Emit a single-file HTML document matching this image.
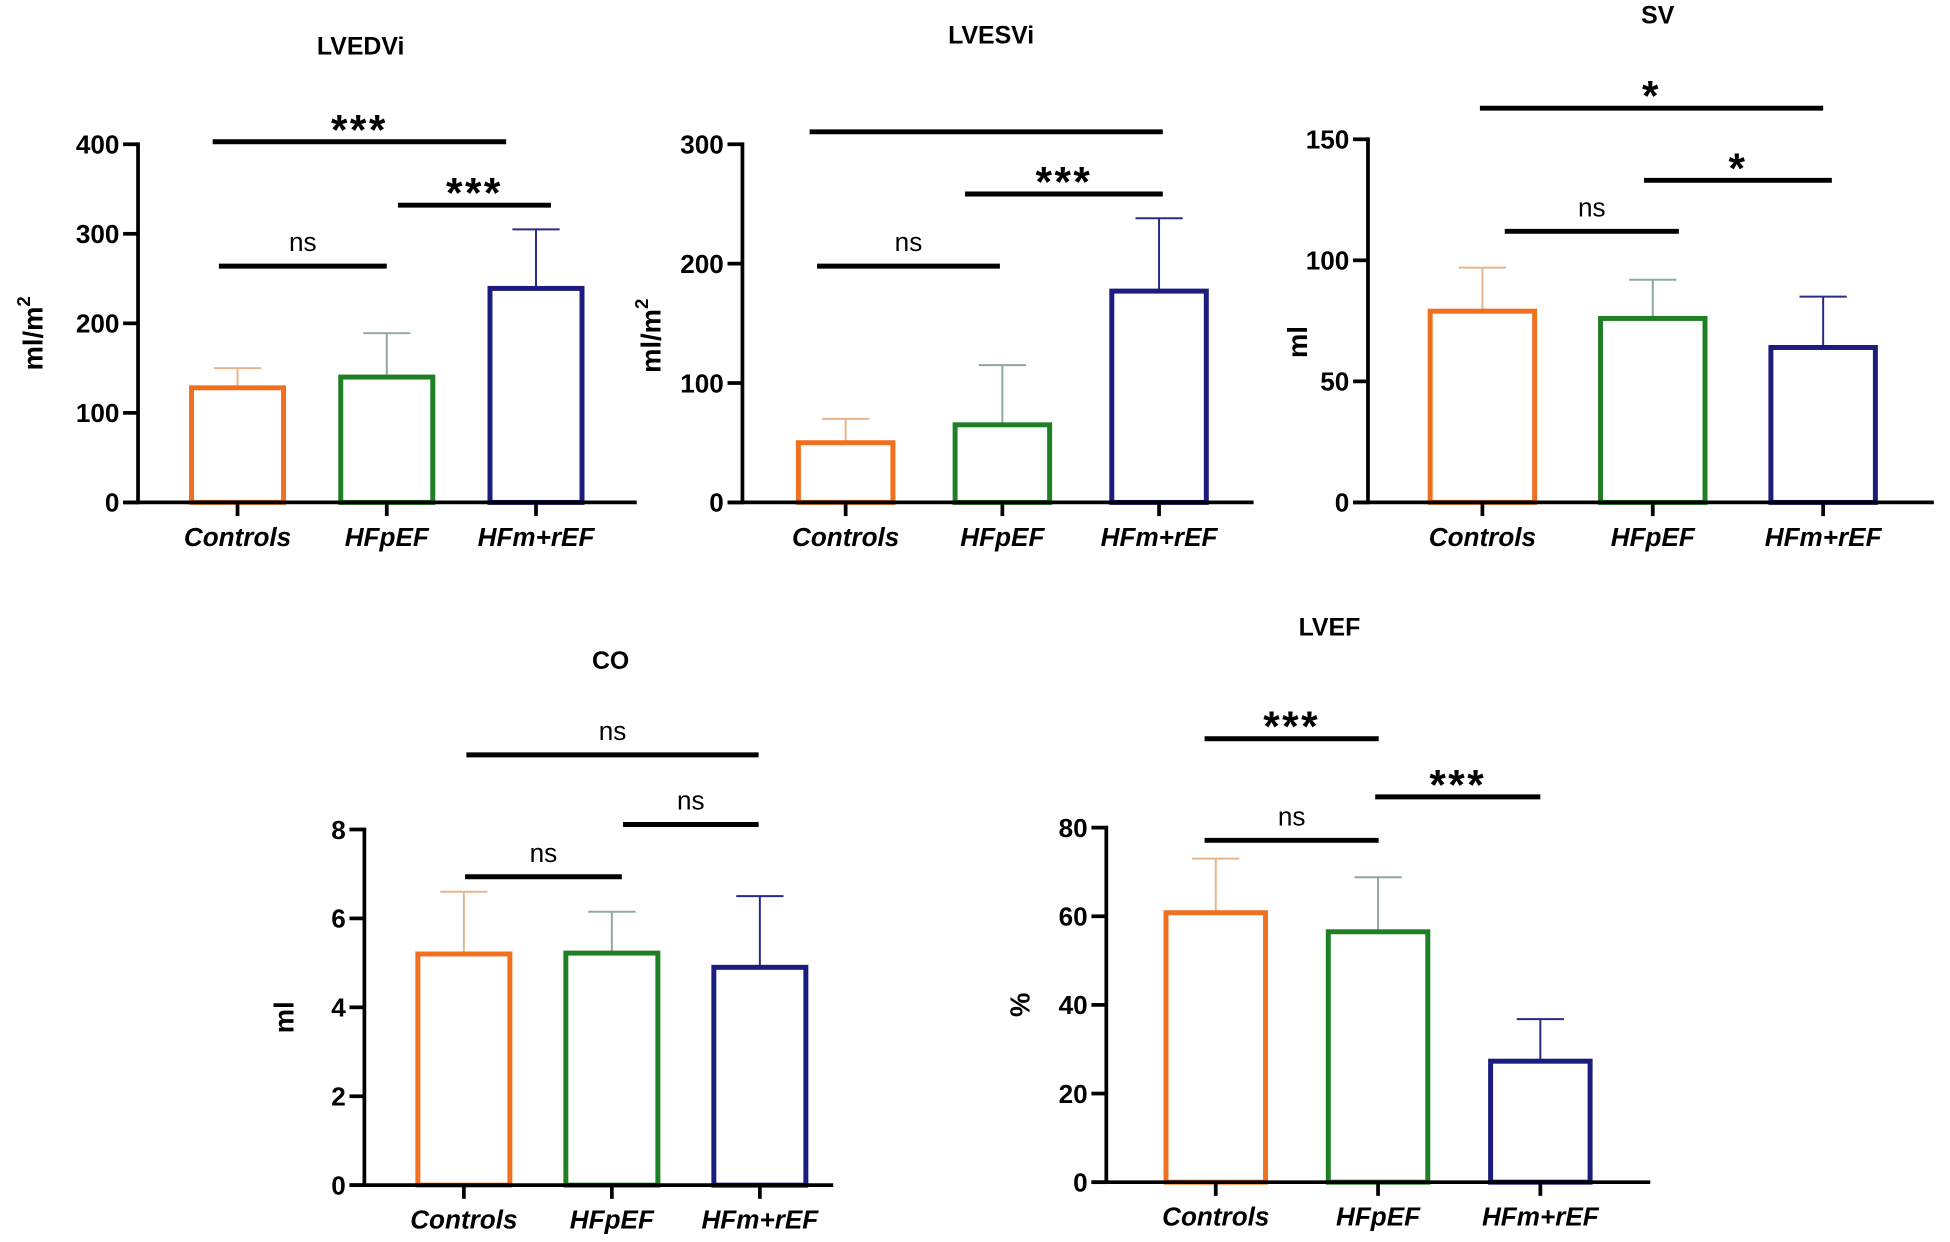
<!DOCTYPE html>
<html><head><meta charset="utf-8"><style>
html,body{margin:0;padding:0;background:#fff}
svg{display:block}
text{font-family:"Liberation Sans",Arial,sans-serif}
</style></head><body>
<svg id="fig" width="1950" height="1242" viewBox="0 0 1568 998.7" xmlns="http://www.w3.org/2000/svg"></svg>
<script>
// ---- data ----
const categories = ["Controls", "HFpEF", "HFm+rEF"];
const lvedviValues = [128, 140, 239];
const lvedviErrors = [150, 189, 305];
const lvedviTicks = [0, 100, 200, 300, 400];
const lvesviValues = [50, 65, 177];
const lvesviErrors = [70, 115, 238];
const lvesviTicks = [0, 100, 200, 300];
const svValues = [79, 76, 64];
const svErrors = [97, 92, 85];
const svTicks = [0, 50, 100, 150];
const coValues = [5.2, 5.22, 4.9];
const coErrors = [6.6, 6.15, 6.5];
const coTicks = [0, 2, 4, 6, 8];
const lvefValues = [60.8, 56.5, 27.3];
const lvefErrors = [73, 68.8, 36.8];
const lvefTicks = [0, 20, 40, 60, 80];

const barColors = ["#f07020", "#1f7f24", "#1c1c7e"];
const errColors = ["#e8b48a", "#8ea89a", "#2a2a88"];

const svg = document.getElementById('fig');
const NS = "http://www.w3.org/2000/svg";
function mk(tag, attrs, parent, txt) {
  const e = document.createElementNS(NS, tag);
  for (const k in attrs) e.setAttribute(k, attrs[k]);
  if (txt !== undefined) e.textContent = txt;
  (parent || svg).appendChild(e);
  return e;
}

function drawChart(cfg, values, errors, ticks) {
  const g = mk('g', {});
  
  
  const y = v => cfg.zeroY - (v / cfg.max) * (cfg.zeroY - cfg.topY);
  const x = i => cfg.c0 + i * cfg.step;
  const t = mk('text', {x: cfg.titleX, y: cfg.titleY, 'text-anchor': 'middle', 'font-size': 20, 'font-weight': 'bold'}, g, cfg.title);
  
  
  const yl = mk('text', {x: 0, y: 0, transform: `translate(${cfg.ylX},${cfg.ylY}) rotate(-90)`, 'text-anchor': 'middle', 'font-size': 22, 'font-weight': 'bold'}, g);
  
  
  if (cfg.ylabel === 'ml/m2') {
    yl.appendChild(document.createTextNode('ml/m'));
    mk('tspan', {dy: -10, 'font-size': 15}, yl, '2');
  } else yl.textContent = cfg.ylabel;
  values.forEach((v, i) => {
    const cx = x(i), w = cfg.bw;
    const e = mk('line', {x1: cx, x2: cx, y1: y(v), y2: y(errors[i]), stroke: errColors[i], 'stroke-width': 1.6}, g);
    
    
    const ec = mk('line', {x1: cx - 19, x2: cx + 19, y1: y(errors[i]), y2: y(errors[i]), stroke: errColors[i], 'stroke-width': 1.6}, g);
    
    
    const b = mk('rect', {x: cx - w / 2 + 2, y: y(v), width: w - 4, height: cfg.zeroY - y(v), fill: 'none', stroke: barColors[i], 'stroke-width': 4}, g);
    
    
  });
  const ya = mk('line', {x1: cfg.axX, x2: cfg.axX, y1: cfg.topY - 1.5, y2: cfg.zeroY + 1.5, stroke: '#000', 'stroke-width': 3}, g);
  
  
  const xa = mk('line', {x1: cfg.axX - 12, x2: cfg.axEnd, y1: cfg.zeroY, y2: cfg.zeroY, stroke: '#000', 'stroke-width': 3}, g);
  
  
  ticks.forEach(tv => {
    const ty = y(tv);
    mk('line', {x1: cfg.axX - 12, x2: cfg.axX, y1: ty, y2: ty, stroke: '#000', 'stroke-width': 3}, g);
    const tl = mk('text', {x: cfg.axX - 15, y: ty + 7.5, 'text-anchor': 'end', 'font-size': 21, 'font-weight': 'bold'}, g, String(tv));
    
    
  });
  categories.forEach((c, i) => {
    mk('line', {x1: x(i), x2: x(i), y1: cfg.zeroY, y2: cfg.zeroY + 11, stroke: '#000', 'stroke-width': 3}, g);
    const cl = mk('text', {x: x(i), y: cfg.zeroY + 35, 'text-anchor': 'middle', 'font-size': 21, 'font-weight': 'bold', 'font-style': 'italic'}, g, c);
    
    
  });
  cfg.sig.forEach(s => {
    const l = mk('line', {x1: s[0], x2: s[1], y1: s[2], y2: s[2], stroke: '#000', 'stroke-width': 4}, g);
    
    
    if (s[3]) {
      const isStar = s[3] !== 'ns';
      const st = mk('text', {x: (s[0] + s[1]) / 2, y: isStar ? s[2] + 2 : s[2] - 12, 'text-anchor': 'middle', 'font-size': isStar ? 34 : 21, 'font-weight': isStar ? 'bold' : 'normal', 'letter-spacing': isStar ? 2 : 0}, g, s[3]);
      
      
    }
  });
}

drawChart({name: 'lvedvi', title: 'LVEDVi', titleX: 290, titleY: 44, ylabel: 'ml/m2', ylX: 34, ylY: 268,
  axX: 111, axEnd: 512, zeroY: 404, topY: 116, max: 400, c0: 191, step: 120, bw: 78,
  sig: [[171, 407, 114, '***'], [320, 443, 165, '***'], [176, 311, 214, 'ns']]}, lvedviValues, lvedviErrors, lvedviTicks);
drawChart({name: 'lvesvi', title: 'LVESVi', titleX: 797, titleY: 35, ylabel: 'ml/m2', ylX: 531, ylY: 270,
  axX: 597, axEnd: 1008, zeroY: 404, topY: 116, max: 300, c0: 680, step: 126, bw: 80,
  sig: [[651, 935, 106, ''], [776, 935, 156, '***'], [657, 804, 214, 'ns']]}, lvesviValues, lvesviErrors, lvesviTicks);
drawChart({name: 'sv', title: 'SV', titleX: 1333, titleY: 19, ylabel: 'ml', ylX: 1051, ylY: 275,
  axX: 1100, axEnd: 1555, zeroY: 404, topY: 112, max: 150, c0: 1192, step: 137, bw: 88,
  sig: [[1190, 1466, 87, '*'], [1322, 1473, 145, '*'], [1210, 1350, 186, 'ns']]}, svValues, svErrors, svTicks);
drawChart({name: 'co', title: 'CO', titleX: 491, titleY: 538, ylabel: 'ml', ylX: 236, ylY: 818,
  axX: 293, axEnd: 670, zeroY: 953, topY: 667, max: 8, c0: 373, step: 119, bw: 78,
  sig: [[375, 610, 607, 'ns'], [501, 610, 663, 'ns'], [374, 500, 705, 'ns']]}, coValues, coErrors, coTicks);
drawChart({name: 'lvef', title: 'LVEF', titleX: 1069, titleY: 511, ylabel: '%', ylX: 828, ylY: 808,
  axX: 889.6, axEnd: 1327, zeroY: 950.6, topY: 665.5, max: 80, c0: 977.6, step: 130.5, bw: 84,
  sig: [[968.6, 1108.6, 594, '***'], [1105.8, 1238.6, 640.8, '***'], [968.6, 1108.6, 675.7, 'ns']]}, lvefValues, lvefErrors, lvefTicks);
</script>
</body></html>
